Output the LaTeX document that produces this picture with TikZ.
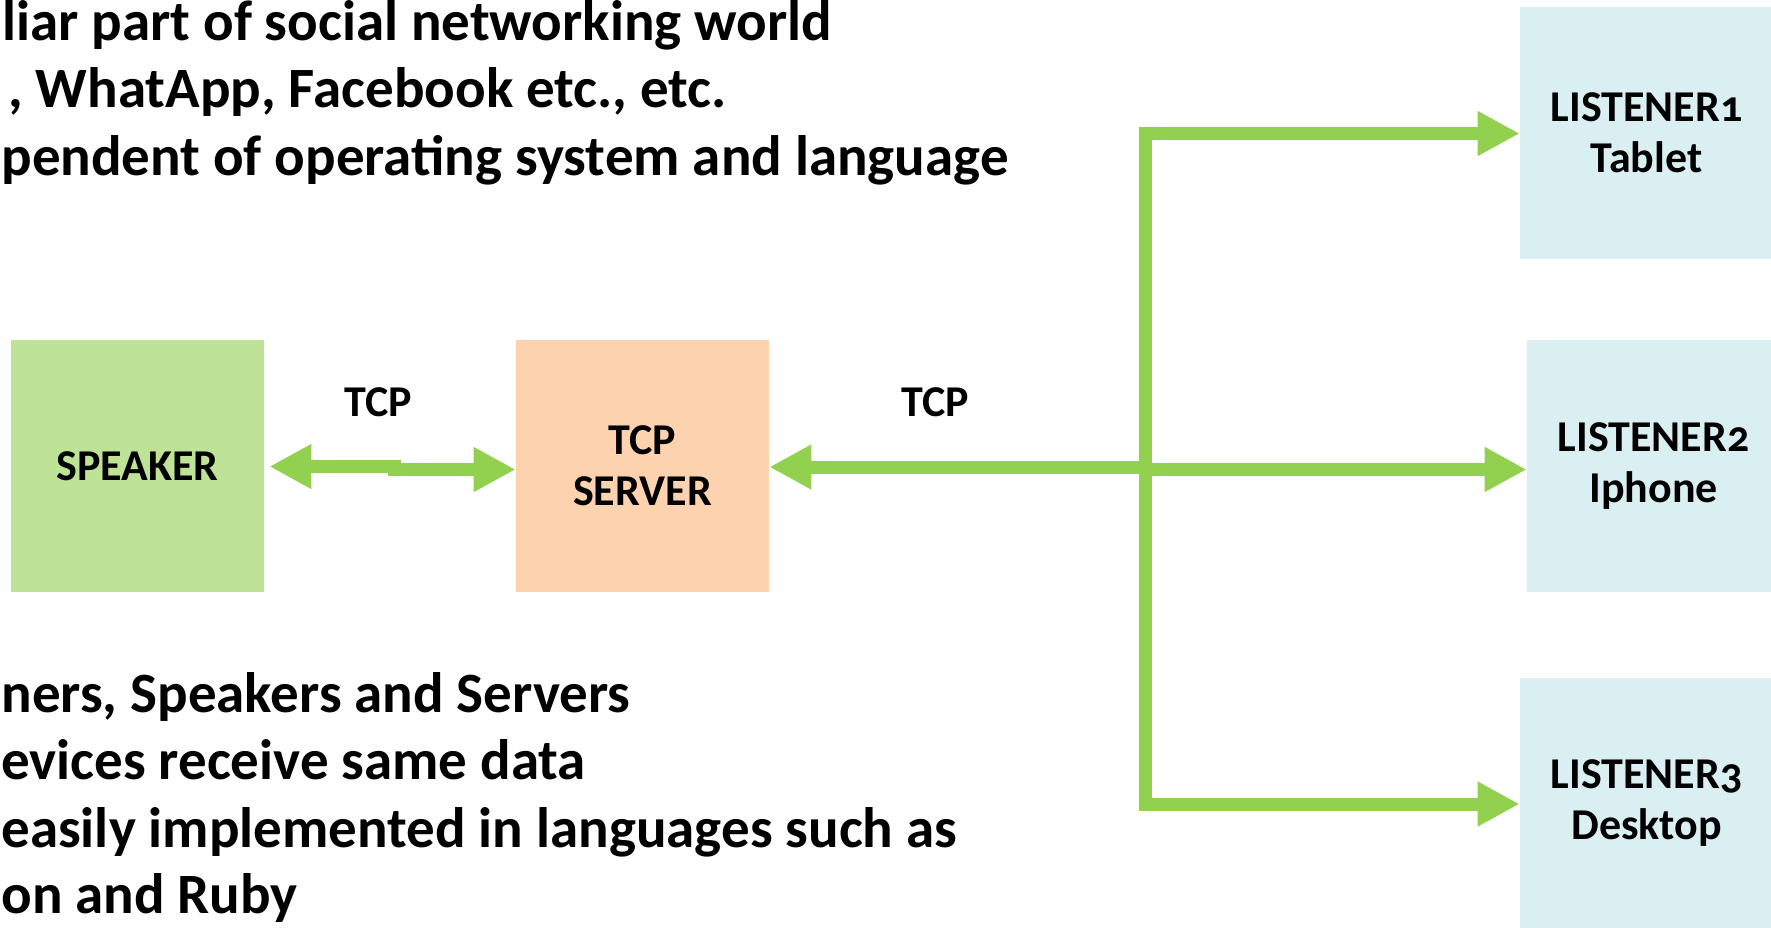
\documentclass[tikz,border=0pt]{standalone}
\usepackage{fontspec}
\setmainfont{Carlito}
\usetikzlibrary{arrows.meta}
\definecolor{arrowgreen}{HTML}{92D050}
\definecolor{spkgreen}{HTML}{BEE396}
\definecolor{srvpeach}{HTML}{FCD3AE}
\definecolor{lstblue}{HTML}{DAEFF1}
\begin{document}
\begin{tikzpicture}[x=0.5pt,y=-0.5pt,
  box/.style={minimum width=126.5pt,minimum height=126pt,inner sep=0pt,align=center,
    font=\fontsize{22}{25.5}\selectfont\bfseries\addfontfeatures{Numbers=OldStyle}},
  lbl/.style={inner sep=0pt,font=\fontsize{22}{25.5}\selectfont\bfseries},
  bul/.style={inner sep=0pt,anchor=base west,font=\fontsize{28.5}{34}\selectfont\bfseries},
  arr/.style={draw=arrowgreen,line width=6.5pt,line join=miter,-{Triangle[length=21pt,width=21pt]}},
  arrb/.style={draw=arrowgreen,line width=6.5pt,line join=miter,{Triangle[length=21pt,width=21pt]}-{Triangle[length=21pt,width=21pt]}}]
\useasboundingbox (0,0) rectangle (1771,927);
\clip (0,0) rectangle (1771,927);
% boxes
\node[box,fill=spkgreen] (spk) at (137.5,466) {SPEAKER};
\node[box,fill=srvpeach] (srv) at (642.5,466) {TCP\\SERVER};
\node[box,fill=lstblue] (l1) at (1646.5,132.5) {LISTENER1\\Tablet};
\node[box,fill=lstblue] (l2) at (1653.5,466) {LISTENER2\\Iphone};
\node[box,fill=lstblue] (l3) at (1646.5,803.5) {LISTENER3\\Desktop};
% labels
\node[lbl] (tcp1) at (378,402) {TCP};
\node[lbl] (tcp2) at (935,402) {TCP};
% bullet text
\node[bul] (t1) at (2,40) {liar part of social networking world};
\node[bul] (t2) at (8,107) {, WhatApp, Facebook etc., etc.};
\node[bul] (t3) at (1,175) {pendent of operating system and language};
\node[bul] (b1) at (1,712) {ners, Speakers and Servers};
\node[bul] (b2) at (1,779) {evices receive same data};
\node[bul] (b3) at (1,847) {easily implemented in languages such as};
\node[bul] (b4) at (1,913) {on and Ruby};
% speaker <-> server
\coordinate (s1) at (401,466.5);
\coordinate (s2) at (388,469.5);
\draw[arr,shorten >=2.5pt] (s1) -- (s1 -| spk.east);
\draw[arr] (s2) -- (s2 -| srv.west);
% server <-> listeners
\coordinate (vt) at (1145,133.5);
\coordinate (vb) at (1145,804);
\coordinate (jl) at (1151,467);
\coordinate (jr) at (1139,469.5);
\draw[arrb] (vt -| l1.west) -- (vt) -- (vb) -- (vb -| l3.west);
\draw[arr] (jl) -- (jl -| srv.east);
\draw[arr] (jr) -- (jr -| l2.west);
\end{tikzpicture}
\end{document}
